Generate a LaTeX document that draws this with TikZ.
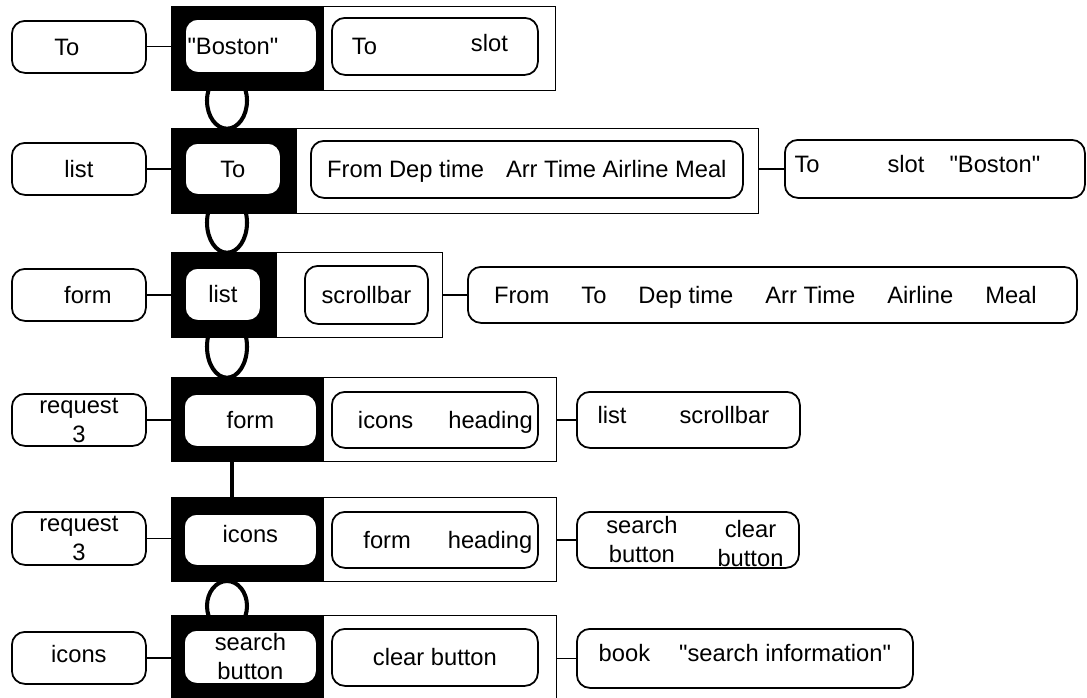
\documentclass[tikz,border=0pt]{standalone}
\usepackage{fontspec}
\setmainfont{Liberation Sans}[Ligatures=TeXOff]
\usetikzlibrary{calc,backgrounds}
\newlength\px
\setlength\px{0.02cm}
\tikzset{
  pill/.style={draw, line width=1pt, rounded corners=0.26cm, fill=white, inner sep=0pt,
               text height=9.7pt, text depth=0pt, anchor=north west},
  outerbox/.style={draw, line width=0.8pt, inner sep=0pt, anchor=north west},
  blackpart/.style={fill=black, inner sep=0pt, anchor=north west},
  link/.style={line width=0.7pt},
  loopline/.style={line width=2.3pt}
}

\begin{document}
\begin{tikzpicture}[x=0.02cm, y=-0.02cm, every node/.style={font=\fontsize{13.5}{16.5}\selectfont}]
\path[use as bounding box] (0,0) rectangle (1087,697);
\clip (0,0) rectangle (1087,697);

\foreach \n/\top/\w/\h/\bw in {1/6/384/84/153, 2/128/587/85/126, 3/252/271/85/106,
                               4/377/385/84/153, 5/497/385/84/153, 6/615/385/95/153}{
  \node[outerbox, minimum width=\w\px, minimum height=\h\px] (f\n) at (171,\top) {};
  \node[blackpart, minimum width=\bw\px, minimum height=\h\px] (b\n) at (171,\top) {};
}

\node[pill, minimum width=134\px, minimum height=52\px] (l1) at (11,20) {To\hspace*{24\px}};
\node[pill, minimum width=134\px, minimum height=52\px] (l2) at (11,142) {list};
\node[pill, minimum width=134\px, minimum height=52\px] (l3) at (11,268) {\hspace*{18\px}form};
\node[pill, minimum width=134\px, minimum height=52\px] (l4) at (11,393) {\begin{tabular}{@{}c@{}}request\\3\end{tabular}};
\node[pill, minimum width=134\px, minimum height=53\px] (l5) at (11,511) {\begin{tabular}{@{}c@{}}request\\3\end{tabular}};
\node[pill, minimum width=134\px, minimum height=52\px] (l6) at (11,631) {\raisebox{4\px}{icons}};

\node[pill, minimum width=132\px, minimum height=54\px] (i1) at (184,18) {"Boston"\hspace*{36\px}};
\node[pill, minimum width=96\px, minimum height=52\px] (i2) at (184,142) {To};
\node[pill, minimum width=76\px, minimum height=53\px] (i3) at (184,267) {list};
\node[pill, minimum width=133\px, minimum height=53\px] (i4) at (183,393) {form};
\node[pill, minimum width=133\px, minimum height=52\px] (i5) at (183,513) {\raisebox{6\px}{icons}};
\node[pill, minimum width=133\px, minimum height=54\px] (i6) at (183,629) {\begin{tabular}{@{}c@{}}search\\button\end{tabular}};

\node[pill, minimum width=206\px, minimum height=57\px] (p1) at (331,17) {To\hspace{94\px}\raisebox{3\px}{slot}\hspace*{10\px}};
\node[pill, minimum width=432\px, minimum height=57\px] (p2) at (310,140) {From Dep time\hspace{22\px}Arr Time Airline Meal};
\node[pill, minimum width=123\px, minimum height=58\px] (p3) at (304,265) {scrollbar};
\node[pill, minimum width=206\px, minimum height=56\px] (p4) at (331,391) {\hspace*{21\px}icons\hspace{35\px}heading};
\node[pill, minimum width=206\px, minimum height=56\px] (p5) at (331,511) {\hspace*{26\px}form\hspace{37\px}heading};
\node[pill, minimum width=206\px, minimum height=57\px] (p6) at (331,628) {clear button};

\node[pill, minimum width=300\px, minimum height=58\px] (r2) at (784,139) {\raisebox{5\px}{To\hspace{68\px}slot\hspace{25\px}"Boston"}\hspace*{35\px}};
\node[pill, minimum width=609\px, minimum height=56\px] (r3) at (467,266) {From\hspace{32\px}To\hspace{32\px}Dep time\hspace{32\px}Arr Time\hspace{32\px}Airline\hspace{32\px}Meal\hspace*{14\px}};
\node[pill, minimum width=223\px, minimum height=56\px] (r4) at (576,391) {\raisebox{5\px}{list\hspace{53\px}scrollbar}\hspace*{10\px}};
\node[pill, minimum width=222\px, minimum height=56\px] (r5) at (576,511) {\hspace*{14\px}\begin{tabular}{@{}c@{\hspace{40\px}}c@{}}search&\raisebox{-4\px}{clear}\\button&\raisebox{-4\px}{button}\end{tabular}};
\node[pill, minimum width=336\px, minimum height=59\px] (r6) at (576,628) {\raisebox{5\px}{book\hspace{29\px}"search information"}};

\foreach \n in {1,...,6}
  \draw[link] (l\n.east) -- (l\n.east -| f\n.west);
\foreach \n in {2,...,6}
  \draw[link] (r\n.west -| f\n.east) -- (r\n.west);

\begin{scope}[on background layer]
\foreach \n/\dy/\ry in {1/10/28, 2/9/30, 3/9/31}
  \draw[loopline] ($(b\n.south west)+(56,\dy)$) ellipse [x radius=20, y radius=\ry];
\draw[loopline] ($(b6.north west)+(56,-9)$) ellipse [x radius=20, y radius=25];
\end{scope}
\draw[loopline] ($(b4.south west)+(61,0)$) -- ($(b5.north west)+(61,0)$);
\end{tikzpicture}
\end{document}
